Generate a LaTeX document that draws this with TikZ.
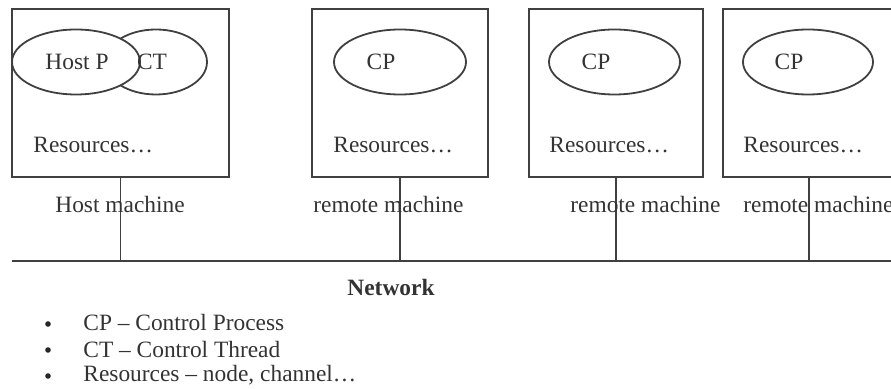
\documentclass[tikz,border=0pt]{standalone}
\usepackage{fontspec}
\setmainfont{Liberation Serif}
\usetikzlibrary{shapes.geometric}

\begin{document}
\begin{tikzpicture}
        [x=0.5pt, y=-0.5pt, every node/.style={font=\fontsize{11.7}{14}\selectfont, text=black!80},
        machine/.style={draw, rectangle, minimum height=84pt, inner sep=0pt},
        proc/.style={draw, ellipse, minimum height=32.5pt, inner sep=0pt},
        txt/.style={anchor=west, inner sep=0pt},
        dot/.style={circle, fill=black!85, inner sep=0pt, minimum size=2.8pt},
        wire/.style={black!75, line width=0.9pt}]

        \useasboundingbox (0,0) rectangle (891,389);
        \clip (0,0) rectangle (891,389);

        % machines
        \node[machine, wire, minimum width=108.5pt] (host) at (120.5,93) {};
        \node[machine, wire, minimum width=88pt] (rm1) at (400,93) {};
        \node[machine, wire, minimum width=87pt] (rm2) at (616,93) {};
        \node[machine, wire, minimum width=86pt] (rm3) at (809,93) {};

        % processes and threads
        \node[proc, wire, minimum width=51pt] (ct) at (156,62) {};
        \node[proc, wire, fill=white, minimum width=64pt] (hostp) at (76,62) {};
        \node (hostpt) at (77,62) {Host P};
        \node (ctt) at (152,62) {CT};
        \node[proc, wire, minimum width=66pt] (cp1) at (400,62) {};
        \node[proc, wire, minimum width=65.5pt] (cp2) at (614.5,62) {};
        \node[proc, wire, minimum width=65pt] (cp3) at (808,62) {};
        \node (cp1t) at (381,62) {CP};
        \node (cp2t) at (596,62) {CP};
        \node (cp3t) at (789,62) {CP};

        % resources
        \node[txt] (res0) at (33,145) {Resources…};
        \node[txt] (res1) at (333,145) {Resources…};
        \node[txt] (res2) at (549,145) {Resources…};
        \node[txt] (res3) at (743,145) {Resources…};

        % network
        \coordinate (netL) at (12,261);
        \coordinate (netR) at (900,261);
        \draw[wire] (netL) -- (netR);
        \draw[wire] (host.south) -- (host.south |- netL);
        \draw[wire] (rm1.south) -- (rm1.south |- netL);
        \draw[wire] (rm2.south) -- (rm2.south |- netL);
        \draw[wire] (rm3.south) -- (rm3.south |- netL);

        % machine labels
        \node[txt] (lbl0) at (55,205) {Host machine};
        \node[txt] (lbl1) at (313,205) {remote machine};
        \node[txt] (lbl2) at (570,205) {remote machine};
        \node[txt] (lbl3) at (743,205) {remote machine};

        \node (net) at (391,288) {\bfseries Network};

        % legend
        \node[dot] (b1) at (48,324) {};
        \node[dot] (b2) at (48,350) {};
        \node[dot] (b3) at (48,376) {};
        \node[txt] (item1) at (83,323) {CP – Control Process};
        \node[txt] (item2) at (83,350) {CT – Control Thread};
        \node[txt] (item3) at (83,375) {Resources – node, channel…};

        \end{tikzpicture}
\end{document}
